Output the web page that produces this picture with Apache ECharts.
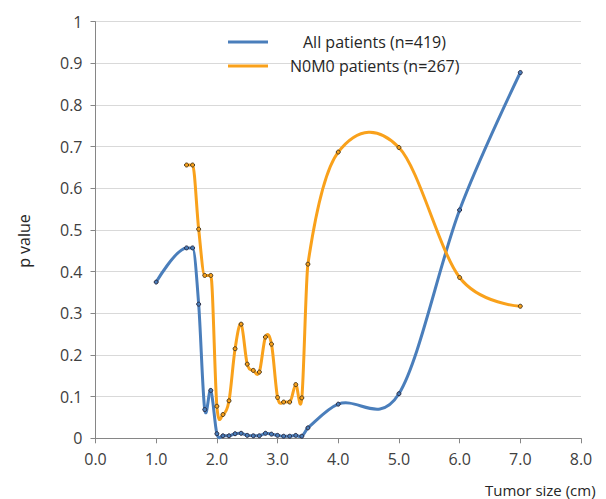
<!DOCTYPE html>
<html><head><meta charset="utf-8">
<script src="https://cdn.jsdelivr.net/npm/echarts@6/dist/echarts.min.js"></script>
<style>html,body{margin:0;padding:0;background:#fff}#c{width:606px;height:499px}</style>
</head><body><div id="c"></div>
<script>
var blueName = 'All patients (n=419)';
var orangeName = 'N0M0 patients (n=267)';
var blueX = [1.0,1.5,1.6,1.7,1.8,1.9,2.0,2.1,2.2,2.3,2.4,2.5,2.6,2.7,2.8,2.9,3.0,3.1,3.2,3.3,3.4,3.5,4.0,5.0,6.0,7.0];
var blueY = [0.375,0.457,0.457,0.322,0.069,0.115,0.011,0.006,0.006,0.011,0.012,0.007,0.006,0.006,0.012,0.010,0.007,0.005,0.005,0.007,0.005,0.025,0.082,0.107,0.548,0.878];
var orangeX = [1.5,1.6,1.7,1.8,1.9,2.0,2.1,2.2,2.3,2.4,2.5,2.6,2.7,2.8,2.9,3.0,3.1,3.2,3.3,3.4,3.5,4.0,5.0,6.0,7.0];
var orangeY = [0.656,0.656,0.502,0.391,0.391,0.077,0.057,0.090,0.215,0.274,0.178,0.163,0.159,0.243,0.226,0.098,0.087,0.087,0.129,0.097,0.418,0.687,0.698,0.386,0.317];
var xTitle = 'Tumor size (cm)';
var yTitle = 'p value';

var BLUE = '#4a7ebb', ORANGE = '#f9a11b';
var FONT = 'Open Sans';
function pairs(xs, ys){ return xs.map(function(x,i){ return [x, ys[i]]; }); }

// Smooth curve segments through the data (tangents weighted by x-spacing, flat next to plateaus),
// positioned through the axis scales via api.coord
function smoothRenderer(xs, ys, color){
  var S = 1 / 3;
  function flatAt(k){ return ys[k] === ys[k - 1] || ys[k] === ys[k + 1]; }
  return function(params, api){
    var i = params.dataIndex, n = xs.length;
    if (i >= n - 1) return null;
    function P(k){ return api.coord([xs[k], ys[k]]); }
    var p1 = P(i), p2 = P(i + 1);
    var d12 = xs[i + 1] - xs[i];
    var c1 = p1.slice(), c2 = p2.slice();
    if (i > 0) {
      var p0 = P(i - 1), r1 = d12 / (xs[i + 1] - xs[i - 1]);
      c1 = [p1[0] + (p2[0] - p0[0]) * S * r1, flatAt(i) ? p1[1] : p1[1] + (p2[1] - p0[1]) * S * r1];
    }
    if (i + 2 < n) {
      var p3 = P(i + 2), r2 = d12 / (xs[i + 2] - xs[i]);
      c2 = [p2[0] - (p3[0] - p1[0]) * S * r2, flatAt(i + 1) ? p2[1] : p2[1] - (p3[1] - p1[1]) * S * r2];
    }
    return {
      type:'bezierCurve',
      shape:{x1:p1[0], y1:p1[1], x2:p2[0], y2:p2[1], cpx1:c1[0], cpy1:c1[1], cpx2:c2[0], cpy2:c2[1]},
      style:{stroke:color, lineWidth:3, fill:null, lineCap:'round'}
    };
  };
}

var chart = echarts.init(document.getElementById('c'), null, {renderer:'svg'});
chart.setOption({
  animation:false,
  backgroundColor:'#fff',
  grid:{left:95.5, right:25, top:21.7, bottom:60.7},
  legend:[
    {data:[blueName], left:223, top:29, icon:'rect', itemWidth:40, itemHeight:3,
     itemStyle:{borderWidth:0},
     textStyle:{fontFamily:FONT, fontSize:16, color:'#262626', padding:[0,0,0,30]}},
    {data:[orangeName], left:223, top:53, icon:'rect', itemWidth:40, itemHeight:3,
     itemStyle:{borderWidth:0},
     textStyle:{fontFamily:FONT, fontSize:16, color:'#262626', padding:[0,0,0,17]}}
  ],
  xAxis:{type:'value', min:0, max:8, interval:1,
    axisLine:{lineStyle:{color:'#868686', width:1}},
    axisTick:{show:true, length:5, lineStyle:{color:'#868686'}},
    axisLabel:{fontFamily:FONT, fontSize:16, color:'#404040', margin:13, formatter:function(v){return v.toFixed(1);}},
    splitLine:{show:false}},
  yAxis:{type:'value', min:0, max:1, interval:0.1,
    axisLine:{show:true, lineStyle:{color:'#868686', width:1}},
    axisTick:{show:true, length:5, lineStyle:{color:'#868686'}},
    axisLabel:{fontFamily:FONT, fontSize:16, color:'#404040', margin:13, formatter:function(v){return +v.toFixed(1)+'';}},
    splitLine:{show:true, lineStyle:{color:'#d9d9d9', width:1}}},
  graphic:[
    {type:'text', left:485, top:482, style:{text:xTitle, font:'15px "Open Sans"', fill:'#262626'}},
    {type:'text', x:24, y:241, rotation:Math.PI/2, style:{text:yTitle, font:'16px "Open Sans"', fill:'#262626', textAlign:'center', textVerticalAlign:'middle'}}
  ],
  series:[
    {name:blueName, type:'custom', data:pairs(blueX, blueY), encode:{x:0, y:1},
     itemStyle:{color:BLUE}, renderItem:smoothRenderer(blueX, blueY, BLUE), z:2},
    {name:orangeName, type:'custom', data:pairs(orangeX, orangeY), encode:{x:0, y:1},
     itemStyle:{color:ORANGE}, renderItem:smoothRenderer(orangeX, orangeY, ORANGE), z:3},
    {name:blueName, type:'scatter', data:pairs(blueX, blueY), symbol:'circle', symbolSize:4,
     itemStyle:{color:BLUE, borderColor:'#2b2b40', borderWidth:1, opacity:1}, z:4},
    {name:orangeName, type:'scatter', data:pairs(orangeX, orangeY), symbol:'circle', symbolSize:4,
     itemStyle:{color:ORANGE, borderColor:'#4a3a20', borderWidth:1, opacity:1}, z:5}
  ]
});
</script></body></html>
